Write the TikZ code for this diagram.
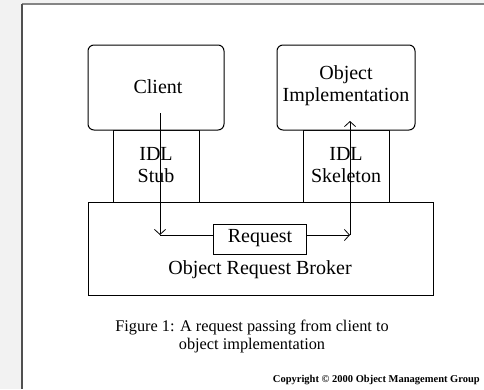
\documentclass[tikz,border=0pt]{standalone}
\usepackage{fontspec}
\setmainfont{Liberation Serif}
\usetikzlibrary{arrows.meta}
\definecolor{pagegrey}{HTML}{F2F2F2}
\definecolor{framegrey}{HTML}{505050}
\tikzset{
  box/.style={draw, line width=1pt, inner sep=0pt},
  roundbox/.style={box, rounded corners=6pt},
  lbl/.style={font=\fontsize{20}{22}\selectfont, align=center, inner sep=0pt},
  flow/.style={line width=1pt, -{Straight Barb[length=5pt,width=11pt,line width=0.8pt]}},
}
\begin{document}
\begin{tikzpicture}[x=1pt,y=-1pt]
\useasboundingbox (0,0) rectangle (484,389);
\fill[pagegrey] (0,0) rectangle (484,389);
\fill[white] (22,4) rectangle (484,389);
\draw[framegrey!70, line width=1.2pt] (22,4) -- (484,4);
\draw[framegrey, line width=2pt] (22,4) -- (22,389);

% boxes
\node[box, minimum width=86pt, minimum height=72pt] (stub) at (156,166) {};
\node[box, minimum width=86pt, minimum height=72pt] (skel) at (346,166) {};
\node[roundbox, fill=white, minimum width=136pt, minimum height=85pt] (client) at (156,87.5) {};
\node[roundbox, fill=white, minimum width=138pt, minimum height=85pt] (impl) at (346,87.5) {};
\node[box, fill=white, minimum width=345pt, minimum height=93pt] (orb) at (260.5,248.5) {};
\node[box, fill=white, minimum width=93pt, minimum height=30pt] (req) at (259.5,239) {};

% labels
\node[lbl] (clientT) at (158,87) {Client};
\node[lbl] (implT) at (346,86) {Object\\Implementation};
\node[lbl] (stubT) at (156,165) {IDL\\Stub};
\node[lbl] (skelT) at (346,165) {IDL\\Skeleton};
\node[lbl] (reqT) at (260,238) {Request};
\node[lbl] (orbT) at (260,270) {Object Request Broker};
\node[font=\fontsize{16.3}{18}\selectfont, align=center, inner sep=0pt] (cap) at (252,336) {Figure 1: A request passing from client to\\object implementation};
\node[font=\fontsize{10.5}{11}\selectfont\bfseries, anchor=east, inner sep=0pt] (copy) at (480,380) {Copyright © 2000 Object Management Group};

% connectors
\coordinate (cstart) at (160,113);
\coordinate (cturn) at (160,235);
\coordinate (sturn) at (350,235);
\coordinate (send) at (350,121);
\draw[flow] (cstart) -- (cturn);
\draw[line width=1pt] (cturn) -- (req.west |- cturn);
\draw[flow] (req.east |- sturn) -- (sturn);
\draw[flow] (sturn) -- (send);
\end{tikzpicture}
\end{document}
